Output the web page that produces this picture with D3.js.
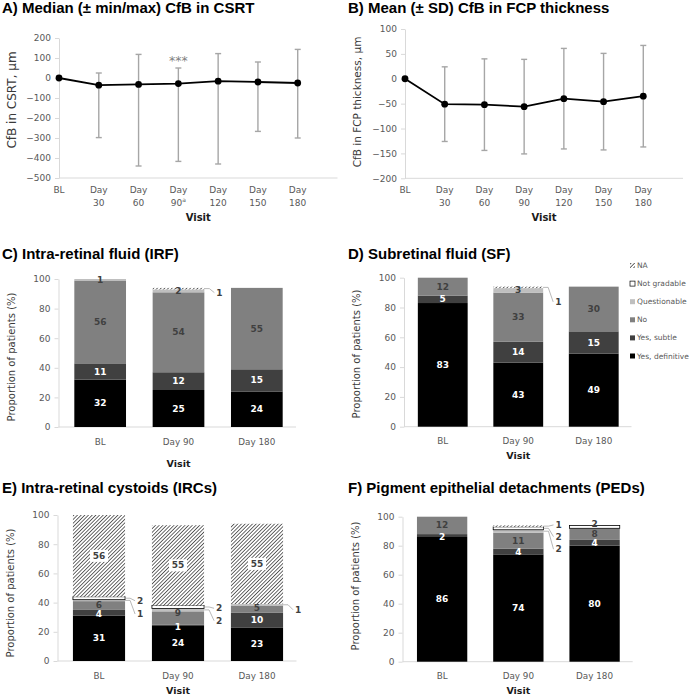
<!DOCTYPE html>
<html><head><meta charset="utf-8">
<script src="https://cdn.jsdelivr.net/npm/d3@7"></script>
<style>body{margin:0;background:#fff}svg{display:block}</style>
</head><body>
<svg id="chart" width="689" height="697"></svg>
<script>
// ---------- DATA ----------
const lineVisits = ["BL","Day 30","Day 60","Day 90","Day 120","Day 150","Day 180"];
const lineFootnotes = ["","","","a","","",""];
const csrtSignif = ["","","","***","","",""];
const csrtMedian = [0,-36,-32,-28,-16,-20,-25];
const csrtMin    = [0,-298,-440,-417,-430,-267,-300];
const csrtMax    = [0,25,118,50,122,80,143];
const csrtTicks  = [200,100,0,-100,-200,-300,-400,-500];
const fcpMean = [0,-51,-52,-56,-40,-46,-35];
const fcpSD   = [0,75,92,95,101,97,102];
const fcpTicks = [100,50,0,-50,-100,-150,-200];

const barVisits = ["BL","Day 90","Day 180"];
const barSeries = ["Yes, definitive","Yes, subtle","No","Questionable","Not gradable","NA"];
const barTicks = [0,20,40,60,80,100];
// rows = series (in barSeries order), columns = visits
const irfValues = [[32,25,24],[11,12,15],[56,54,55],[1,2,0],[0,0,0],[0,1,0]];
const sfValues  = [[83,43,49],[5,14,15],[12,33,30],[0,3,0],[0,0,0],[0,1,0]];
const ircValues = [[31,24,23],[4,1,10],[6,9,5],[1,2,1],[2,2,0],[56,55,55]];
const pedValues = [[86,74,80],[2,4,4],[12,11,8],[0,2,0],[0,2,2],[0,1,0]];

// ---------- STYLE ----------
const TF = "'DejaVu Sans', Verdana, sans-serif";
const HF = "'Liberation Sans', Arial, sans-serif";
const segFill = ["#000000","#404040","#808080","#bfbfbf","#ffffff","url(#hatch)"];
const segText = ["#ffffff","#ffffff","#404040","#404040","#404040","#404040"];
const axisCol = "#d9d9d9", tickTextCol = "#595959";

const svg = d3.select("#chart");
const defs = svg.append("defs");
const pat = defs.append("pattern").attr("id","hatch").attr("patternUnits","userSpaceOnUse")
  .attr("width",2.6).attr("height",2.6).attr("patternTransform","rotate(45)");
pat.append("rect").attr("width",2.6).attr("height",2.6).attr("fill","#fff");
pat.append("rect").attr("width",0.85).attr("height",2.6).attr("fill","#505050");

function styleAxis(sel, fs){
  sel.attr("font-family",TF).attr("font-size",fs);
  sel.select(".domain").attr("stroke",axisCol);
  sel.selectAll(".tick line").attr("stroke",axisCol);
  sel.selectAll(".tick text").attr("fill",tickTextCol);
}
function title(txt,x,y){
  svg.append("text").attr("x",x).attr("y",y).attr("font-family",HF).attr("font-weight","bold")
    .attr("font-size",15).attr("fill","#000").text(txt);
}
function yTitle(txt,x,y,fs){
  svg.append("text").attr("transform",`translate(${x},${y}) rotate(-90)`).attr("text-anchor","middle")
    .attr("dominant-baseline","central").attr("font-family",TF).attr("font-size",fs).attr("fill","#3a3a3a").text(txt);
}
function visitLabel(x,y,fs){
  svg.append("text").attr("x",x).attr("y",y).attr("text-anchor","middle").attr("font-family",TF)
    .attr("font-weight","bold").attr("font-size",fs).attr("fill","#1a1a1a").text("Visit");
}

// ---------- LINE PANELS ----------
function linePanel(o){
  const g = svg.append("g");
  const x = d3.scaleLinear().domain([0,7]).range([o.x0,o.x1]);
  const y = d3.scaleLinear().domain(o.domain).range([o.yBot,o.yTop]);
  const ya = g.append("g").attr("transform",`translate(${o.x0},0)`)
    .call(d3.axisLeft(y).tickValues(o.ticks).tickSize(4).tickSizeOuter(0).tickPadding(4));
  styleAxis(ya, 9);
  g.append("line").attr("x1",o.x0).attr("x2",o.x1).attr("y1",o.yBot).attr("y2",o.yBot).attr("stroke",axisCol);
  lineVisits.forEach((v,i)=>{
    const parts = v.split(" ");
    const t = g.append("text").attr("x",x(i)).attr("y",o.yBot+14.5).attr("text-anchor","middle")
      .attr("font-family",TF).attr("font-size",9).attr("fill",tickTextCol);
    t.append("tspan").attr("x",x(i)).text(parts[0]);
    if(parts[1]){
      t.append("tspan").attr("x",x(i)).attr("dy",13).text(parts[1]);
      if(o.foot && o.foot[i]){
        t.append("tspan").attr("font-size",6).attr("dy",-4).text(o.foot[i]);
      }
    }
  });
  const eb = g.append("g").attr("stroke","#a6a6a6").attr("stroke-width",1.4);
  o.values.forEach((v,i)=>{
    if(o.lo[i]===o.hi[i]) return;
    eb.append("line").attr("x1",x(i)).attr("x2",x(i)).attr("y1",y(o.lo[i])).attr("y2",y(o.hi[i]));
    eb.append("line").attr("x1",x(i)-3).attr("x2",x(i)+3).attr("y1",y(o.lo[i])).attr("y2",y(o.lo[i]));
    eb.append("line").attr("x1",x(i)-3).attr("x2",x(i)+3).attr("y1",y(o.hi[i])).attr("y2",y(o.hi[i]));
  });
  g.append("path").datum(o.values).attr("fill","none").attr("stroke","#000").attr("stroke-width",1.8)
    .attr("d",d3.line().x((d,i)=>x(i)).y(d=>y(d)));
  g.selectAll("circle.pt").data(o.values).join("circle").attr("class","pt")
    .attr("cx",(d,i)=>x(i)).attr("cy",d=>y(d)).attr("r",3.4).attr("fill","#000");
  if(o.signif){
    o.signif.forEach((s,i)=>{ if(!s) return;
      g.append("text").attr("x",x(i)).attr("y",y(o.hi[i])-3).attr("text-anchor","middle")
        .attr("font-family",TF).attr("font-size",12.5).attr("fill","#7f7f7f").text(s);
    });
  }
  visitLabel((o.x0+o.x1)/2, o.yBot+43, 10);
}

title("A) Median (\u00b1 min/max) CfB in CSRT", 2, 13);
yTitle("CfB in CSRT, \u00b5m", 12, 100, 12);
linePanel({x0:59,x1:337.5,yTop:38,yBot:178,domain:[-500,200],ticks:csrtTicks,
  values:csrtMedian,lo:csrtMin,hi:csrtMax,foot:lineFootnotes,signif:csrtSignif});

title("B) Mean (\u00b1 SD) CfB in FCP thickness", 348, 13);
yTitle("CfB in FCP thickness, \u00b5m", 357, 102, 10.5);
linePanel({x0:405,x1:683,yTop:29,yBot:178.3,domain:[-200,100],ticks:fcpTicks,
  values:fcpMean,lo:fcpMean.map((m,i)=>m-fcpSD[i]),hi:fcpMean.map((m,i)=>m+fcpSD[i])});

// ---------- BAR PANELS ----------
function barPanel(o){
  const g = svg.append("g");
  const x = d3.scaleBand().domain(barVisits).range([o.bx0,o.bx1]).paddingInner(0.34).paddingOuter(0.17);
  const y = d3.scaleLinear().domain([0,100]).range([o.yBot,o.yTop]);
  const ya = g.append("g").attr("transform",`translate(${o.axisX},0)`)
    .call(d3.axisLeft(y).tickValues(barTicks).tickSize(4).tickSizeOuter(0).tickPadding(4));
  styleAxis(ya, 9);
  g.append("line").attr("x1",o.axisX).attr("x2",o.bx1).attr("y1",o.yBot).attr("y2",o.yBot).attr("stroke",axisCol);
  barVisits.forEach(v=>{
    g.append("text").attr("x",x(v)+x.bandwidth()/2).attr("y",o.yBot+17.5).attr("text-anchor","middle")
      .attr("font-family",TF).attr("font-size",8.8).attr("fill",tickTextCol).text(v);
  });
  const rows = barVisits.map((v,i)=>{const r={visit:v}; o.values.forEach((arr,s)=>r[s]=arr[i]); return r;});
  const stacked = d3.stack().keys(d3.range(o.values.length))(rows);
  const callouts = o.callouts||[], nudges = o.nudges||[];
  const isCallout = (s,j)=>callouts.some(c=>c.s===s&&c.c===j);
  const nudge = (s,j)=>{const n=nudges.find(c=>c.s===s&&c.c===j); return n?n.dy:0;};
  stacked.forEach((ser,s)=>{
    ser.forEach((d,j)=>{
      if(d[1]-d[0]<=0) return;
      g.append("rect").attr("x",x(d.data.visit)).attr("width",x.bandwidth())
        .attr("y",y(d[1])).attr("height",y(d[0])-y(d[1])).attr("fill",segFill[s])
        .attr("stroke",s===4?"#000":"none").attr("stroke-width",s===4?0.8:0);
    });
  });
  stacked.forEach((ser,s)=>{
    ser.forEach((d,j)=>{
      const v=d[1]-d[0]; if(v<=0||isCallout(s,j)) return;
      const cx=x(d.data.visit)+x.bandwidth()/2, cy=y((d[0]+d[1])/2)+nudge(s,j);
      if(s===5 && o.boxNA){
        g.append("rect").attr("x",cx-9).attr("y",cy-6).attr("width",18).attr("height",12).attr("fill","#fff");
      }
      g.append("text").attr("x",cx).attr("y",cy).attr("text-anchor","middle").attr("dominant-baseline","central")
        .attr("font-family",TF).attr("font-weight","bold").attr("font-size",9).attr("fill",segText[s]).text(v);
    });
  });
  callouts.forEach(c=>{
    const d=stacked[c.s][c.c], v=d[1]-d[0];
    const xr=x(d.data.visit)+x.bandwidth(), sy=y((d[0]+d[1])/2), ly=sy+c.dy;
    g.append("path").attr("d",`M${xr},${sy}H${xr+5}L${xr+10},${ly}`).attr("fill","none")
      .attr("stroke","#a6a6a6").attr("stroke-width",0.8);
    g.append("text").attr("x",xr+12).attr("y",ly).attr("dominant-baseline","central")
      .attr("font-family",TF).attr("font-weight","bold").attr("font-size",9).attr("fill","#404040").text(v);
  });
  visitLabel((o.bx0+o.bx1)/2, o.visitY, 9.5);
  if(o.legend){
    const lg=g.append("g");
    barSeries.slice().reverse().forEach((name,k)=>{
      const s=barSeries.length-1-k, yy=o.legend.y+k*18.1;
      lg.append("rect").attr("x",o.legend.x).attr("y",yy-2.5).attr("width",5).attr("height",5)
        .attr("fill",segFill[s]).attr("stroke",s===4?"#000":"none").attr("stroke-width",0.7);
      lg.append("text").attr("x",o.legend.x+7).attr("y",yy).attr("dominant-baseline","central")
        .attr("font-family",TF).attr("font-size",7.5).attr("fill",tickTextCol).text(name);
    });
  }
}

title("C) Intra-retinal fluid (IRF)", 2, 259);
yTitle("Proportion of patients (%)", 11, 357, 10);
barPanel({axisX:58.5,bx0:61,bx1:296,yTop:279,yBot:427,values:irfValues,visitY:467,
  callouts:[{s:5,c:1,dy:4}]});

title("D) Subretinal fluid (SF)", 348, 259);
yTitle("Proportion of patients (%)", 356, 354, 10);
barPanel({axisX:404,bx0:405,bx1:631.5,yTop:277.7,yBot:426.7,values:sfValues,visitY:459,
  callouts:[{s:5,c:1,dy:14.5}],legend:{x:630,y:265.5}});

title("E) Intra-retinal cystoids (IRCs)", 2, 493);
yTitle("Proportion of patients (%)", 10, 593, 10);
barPanel({axisX:57.5,bx0:59.5,bx1:296.5,yTop:515,yBot:661,values:ircValues,visitY:694,boxNA:true,
  callouts:[{s:4,c:0,dy:2.5},{s:3,c:0,dy:13.6},{s:4,c:1,dy:1.3},{s:3,c:1,dy:10.8},{s:3,c:2,dy:5}],
  nudges:[{s:2,c:0,dy:-1},{s:1,c:0,dy:1.5},{s:2,c:1,dy:-4.5},{s:1,c:1,dy:2},{s:2,c:2,dy:-1}]});

title("F) Pigment epithelial detachments (PEDs)", 348, 493);
yTitle("Proportion of patients (%)", 355, 586, 10);
barPanel({axisX:402.5,bx0:404,bx1:632.7,yTop:516.7,yBot:661.7,values:pedValues,visitY:694,
  callouts:[{s:5,c:1,dy:-1.2},{s:4,c:1,dy:8.4},{s:3,c:1,dy:18}],
  nudges:[{s:4,c:2,dy:-3},{s:1,c:0,dy:1}]});
</script>
</body></html>
